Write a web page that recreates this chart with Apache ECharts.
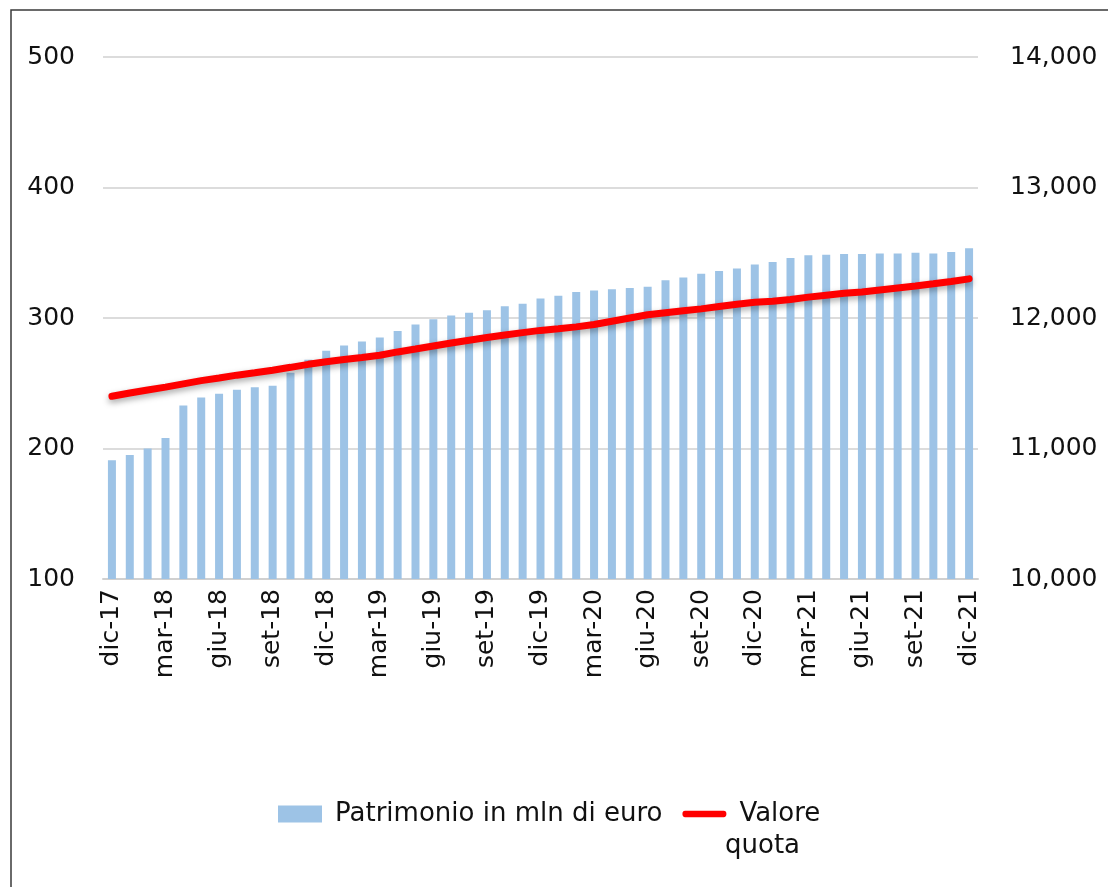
<!DOCTYPE html>
<html>
<head>
<meta charset="utf-8">
<script src="https://cdn.jsdelivr.net/npm/echarts@6/dist/echarts.min.js"></script>
<style>
html,body{margin:0;padding:0;background:#fff;}
#chart{width:1108px;height:887px;}
</style>
</head>
<body>
<div id="chart"></div>
<script>
const categories = [
  'dic-17','gen-18','feb-18','mar-18','apr-18','mag-18','giu-18','lug-18','ago-18','set-18','ott-18','nov-18',
  'dic-18','gen-19','feb-19','mar-19','apr-19','mag-19','giu-19','lug-19','ago-19','set-19','ott-19','nov-19',
  'dic-19','gen-20','feb-20','mar-20','apr-20','mag-20','giu-20','lug-20','ago-20','set-20','ott-20','nov-20',
  'dic-20','gen-21','feb-21','mar-21','apr-21','mag-21','giu-21','lug-21','ago-21','set-21','ott-21','nov-21',
  'dic-21'
];
const patrimonio = [
  191, 195, 200, 208, 233, 239, 242, 245, 247, 248, 258, 268,
  275, 279, 282, 285, 290, 295, 299, 302, 304, 306, 309, 311,
  315, 317, 320, 321, 322, 323, 324, 329, 331, 334, 336, 338,
  341, 343, 346, 348, 348.5, 349, 349, 349.5, 349.5, 350, 349.5, 350.5,
  353.5
];
const valoreQuota = [
  11400, 11425, 11448, 11470, 11495, 11520, 11540, 11562, 11580, 11600, 11622, 11645,
  11665, 11682, 11698, 11715, 11740, 11762, 11785, 11808, 11830, 11850, 11870, 11888,
  11905, 11918, 11932, 11950, 11975, 12000, 12025, 12040, 12055, 12070, 12088, 12105,
  12120, 12128, 12142, 12160, 12175, 12190, 12200, 12215, 12230, 12245, 12262, 12280,
  12300
];
const leftTicks = {min: 100, max: 500, interval: 100};
const rightTicks = {min: 10000, max: 14000, interval: 1000};

const FONT = 'DejaVu Sans';
const chart = echarts.init(document.getElementById('chart'), null, {renderer: 'canvas'});
chart.setOption({
  animation: false,
  backgroundColor: '#ffffff',
  textStyle: {fontFamily: FONT},
  grid: {left: 103, right: 130, top: 57, bottom: 308, containLabel: false},
  legend: {
    left: 273, top: 796,
    itemWidth: 44, itemHeight: 17, itemGap: 20,
    symbolKeepAspect: false,
    textStyle: {fontFamily: FONT, fontSize: 26, color: '#111', padding: [0, 0, 0, 8]},
    data: [
      {name: 'Patrimonio in mln di euro', icon: 'rect'},
      {name: 'Valore', icon: 'path://M3.5,6 L53.5,6 A3.5,3.5 0 0 1 53.5,13 L3.5,13 A3.5,3.5 0 0 1 3.5,6 Z M0,0 L0,0.01 Z M57,19 L57,19.01 Z',
       itemStyle: {color: '#ff0000', borderWidth: 0}}
    ]
  },
  graphic: [
    {type: 'rect', shape: {x: 11, y: 10, width: 1120, height: 900},
     style: {fill: 'none', stroke: '#3a3a3a', lineWidth: 1.5}, silent: true},
    {type: 'text', left: 725, top: 833,
     style: {text: 'quota', font: '26px "DejaVu Sans"', fill: '#111'}}
  ],
  xAxis: {
    type: 'category',
    data: categories,
    axisLine: {lineStyle: {color: '#d0d0d0', width: 2}},
    axisTick: {show: false},
    axisLabel: {rotate: 90, interval: 2, margin: 10, fontSize: 25, color: '#111', fontFamily: FONT}
  },
  yAxis: [
    {
      type: 'value', min: leftTicks.min, max: leftTicks.max, interval: leftTicks.interval,
      axisLine: {show: false}, axisTick: {show: false},
      splitLine: {lineStyle: {color: '#dcdcdc', width: 2}},
      axisLabel: {margin: 28, fontSize: 25, color: '#111', fontFamily: FONT}
    },
    {
      type: 'value', min: rightTicks.min, max: rightTicks.max, interval: rightTicks.interval,
      axisLine: {show: false}, axisTick: {show: false},
      splitLine: {show: false},
      axisLabel: {margin: 32, fontSize: 25, color: '#111', fontFamily: FONT,
        formatter: v => v.toLocaleString('en-US')}
    }
  ],
  series: [
    {
      name: 'Patrimonio in mln di euro', type: 'bar', yAxisIndex: 0,
      data: patrimonio, barWidth: 8,
      itemStyle: {color: '#9dc3e6'}
    },
    {
      name: 'Valore', type: 'line', yAxisIndex: 1,
      data: valoreQuota, symbol: 'none', smooth: false,
      lineStyle: {color: '#ff0000', width: 7, cap: 'round',
        shadowColor: 'rgba(0,0,0,0.35)', shadowBlur: 6, shadowOffsetY: 3},
      itemStyle: {color: '#ff0000'}
    }
  ]
});
</script>
</body>
</html>
